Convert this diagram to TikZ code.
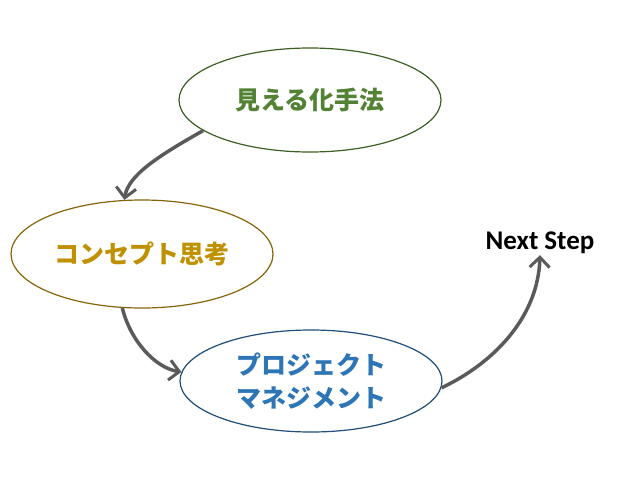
\documentclass[tikz,border=0pt]{standalone}
\usepackage{fontspec}
\usetikzlibrary{shapes.geometric,arrows.meta}
\newfontfamily\jpfont{Noto Sans CJK JP}
\newfontfamily\carfont{Carlito}
\definecolor{jgreen}{RGB}{84,130,53}
\definecolor{jgreenb}{RGB}{60,95,35}
\definecolor{jgold}{RGB}{191,144,0}
\definecolor{jgoldb}{RGB}{135,100,10}
\definecolor{jblue}{RGB}{46,117,182}
\definecolor{jblueb}{RGB}{31,78,121}
\definecolor{agray}{RGB}{90,90,90}
\tikzset{
  bubble/.style={ellipse, draw, line width=1.2pt, fill=white, minimum width=262pt, minimum height=104pt, inner sep=0pt, align=center, font=\jpfont\bfseries\fontsize{25}{33}\selectfont},
  flow/.style={draw=agray, line width=3.5pt, -{Straight Barb[length=10pt,width=20pt,line width=3pt]}}
}
\begin{document}
\begin{tikzpicture}[x=1pt,y=-1pt]
\useasboundingbox (0,0) rectangle (640,480);
\node[bubble, draw=jgreenb, text=jgreen] (a) at (310,100) {見える化手法};
\node[bubble, draw=jgoldb, text=jgold, minimum height=108pt] (b) at (142,254) {コンセプト思考};
\node[bubble, draw=jblueb, text=jblue, minimum height=102pt] (c) at (311,381) {プロジェクト\\マネジメント};
\node[font=\carfont\bfseries\fontsize{27}{30}\selectfont, inner sep=1pt] (n) at (540,243) {Next Step};
\draw[flow] (a.196) .. controls (160,155) and (128,175) .. (b.108);
\draw[flow] (b.250) .. controls (130,340) and (155,368) .. (c.176);
\draw[flow] (c.-3) .. controls (490,365) and (538,320) .. (n.south);
\end{tikzpicture}
\end{document}
